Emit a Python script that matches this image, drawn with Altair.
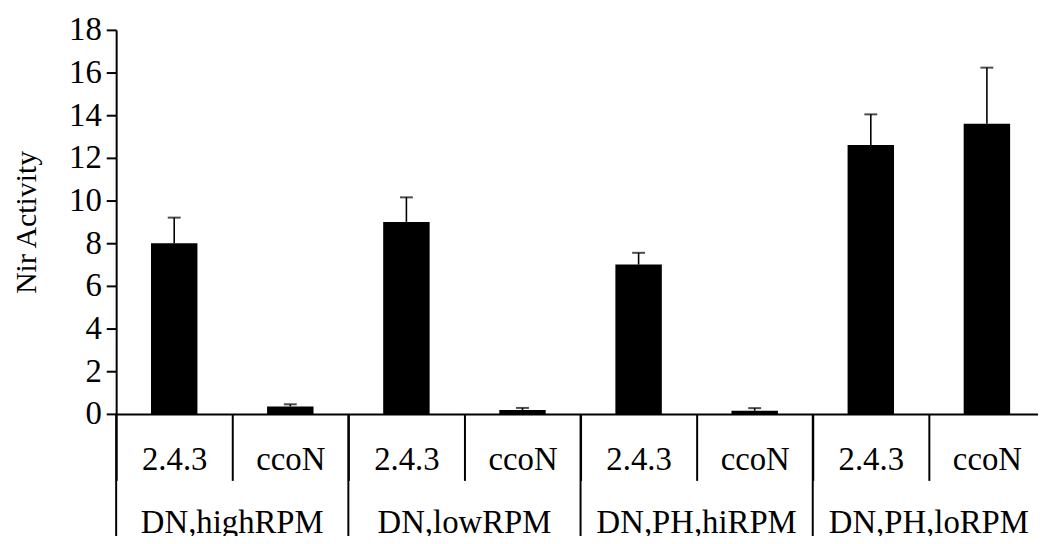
import altair as alt
import pandas as pd

groups = ["DN,highRPM", "DN,lowRPM", "DN,PH,hiRPM", "DN,PH,loRPM"]
strains = ["2.4.3", "ccoN"]
values = [8.0, 0.35, 9.0, 0.18, 7.0, 0.15, 12.6, 13.6]
errors = [1.2, 0.1, 1.15, 0.1, 0.55, 0.12, 1.44, 2.63]
y_ticks = [0, 2, 4, 6, 8, 10, 12, 14, 16, 18]

rows = []
i = 0
for g in groups:
    for s in strains:
        rows.append(dict(key=f"{g}|{s}", group=g, strain=s,
                         value=values[i], err=errors[i], top=values[i] + errors[i]))
        i += 1
df = pd.DataFrame(rows)
keys = list(df["key"])

FONT = "Liberation Serif"
W, H = 929, 387

xscale = alt.Scale(domain=keys, range=[0, 936], paddingInner=0, paddingOuter=0)
xaxis = alt.Axis(
    labelExpr="split(datum.label, '|')[1]",
    tickBand="extent", tickSize=67, tickWidth=2, tickColor="black",
    domainColor="black", domainWidth=2,
    labelFont=FONT, labelFontSize=33, labelColor="black", labelAngle=0,
    labelBaseline="middle", labelPadding=-21, labelOverlap=False,
    title=None, grid=False,
)
yscale = alt.Scale(domain=[0, 18], nice=False)
yaxis = alt.Axis(
    values=y_ticks, tickSize=10, tickWidth=2, tickColor="black",
    domainColor="black", domainWidth=2, grid=False,
    labelFont=FONT, labelFontSize=33, labelColor="black", labelPadding=5,
    title="Nir Activity", titleFont=FONT, titleFontSize=30, titleFontWeight="normal",
    titleColor="black", titleX=-90, titleY=193.5, titleAngle=270,
    titleBaseline="middle", titleAlign="center",
)

X = alt.X("key:N", scale=xscale, axis=xaxis, sort=keys)
base = alt.Chart(df)

bars = base.mark_bar(color="black", width=alt.RelativeBandSize(0.4)).encode(
    x=X, y=alt.Y("value:Q", scale=yscale, axis=yaxis)
)
err_line = base.mark_rule(color="black", strokeWidth=1.6).encode(
    x=X, y=alt.Y("value:Q", scale=yscale, axis=yaxis), y2="top:Q"
)
caps = base.mark_tick(color="black", size=13, thickness=2).encode(
    x=X, y=alt.Y("top:Q", scale=yscale, axis=yaxis)
)
seps = base.transform_filter(alt.datum.strain == "2.4.3").mark_rule(
    color="black", strokeWidth=2
).encode(
    x=alt.X("key:N", scale=xscale, axis=xaxis, sort=keys, bandPosition=0),
    y=alt.value(H), y2=alt.value(H + 150),
)
glabels = base.transform_filter(alt.datum.strain == "ccoN").mark_text(
    font=FONT, fontSize=33, color="black", align="center", baseline="alphabetic"
).encode(
    x=alt.X("key:N", scale=xscale, axis=xaxis, sort=keys, bandPosition=0),
    y=alt.value(507), text="group:N",
)

chart = alt.layer(bars, err_line, caps, seps, glabels).properties(
    width=W, height=H, autosize="none",
    padding={"left": 109, "top": 20, "right": 0, "bottom": 121},
    background="white",
).configure_view(stroke=None)

chart.save("out.html", embed_options={"renderer": "svg", "actions": False})
